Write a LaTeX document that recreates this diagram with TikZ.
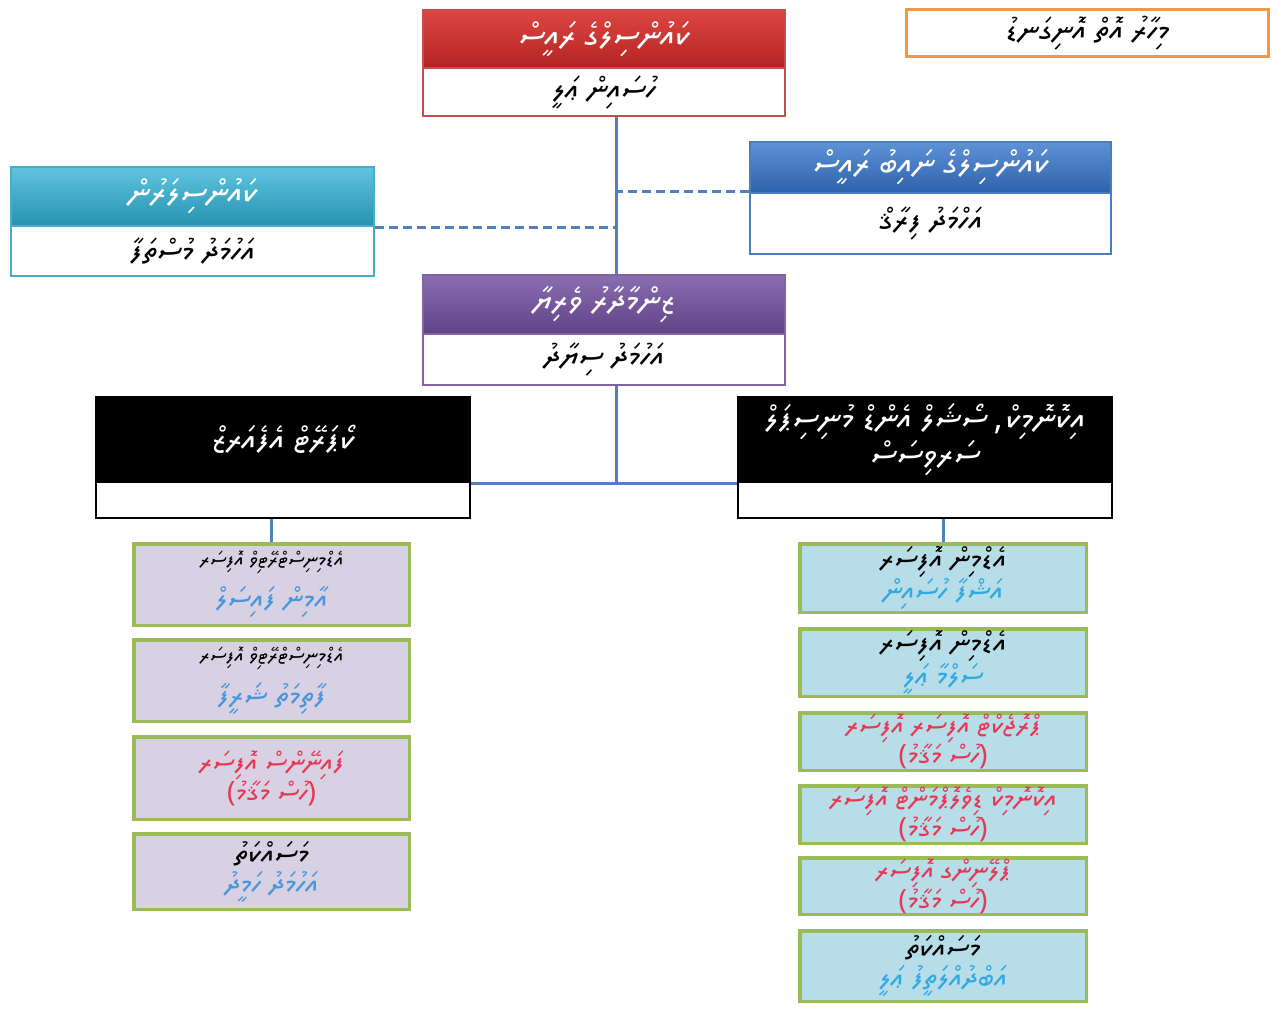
\documentclass[tikz,border=0pt]{standalone}
\usepackage{fontspec}
\usetikzlibrary{calc}
\setmainfont{Liberation Serif}
\IfFontExistsTF{Noto Sans Thaana}{\newfontfamily\dv[Script=Thaana]{Noto Sans Thaana}}{%
 \IfFontExistsTF{FreeSans}{\newfontfamily\dv[Script=Thaana]{FreeSans}}{%
  \IfFontExistsTF{MV Boli}{\newfontfamily\dv[Script=Thaana]{MV Boli}}{%
   \newfontfamily\dv{DejaVu Sans}}}}
\TeXXeTstate=1
\newcommand\dvt[1]{{\dv\beginR #1\endR}}
\newcommand\fH{\fontsize{34}{32}\selectfont}
\newcommand\fN{\fontsize{32}{30}\selectfont}
\newcommand\fB{\fontsize{30}{25}\selectfont}
\newcommand\fR{\fontsize{28}{25}\selectfont}
\newcommand\fS{\fontsize{21}{22}\selectfont}
\definecolor{cRedT}{RGB}{222,70,66}
\definecolor{cRedB}{RGB}{178,36,34}
\definecolor{cRedBd}{RGB}{192,80,77}
\definecolor{cBlueT}{RGB}{94,146,214}
\definecolor{cBlueB}{RGB}{44,98,170}
\definecolor{cBlueBd}{RGB}{74,126,187}
\definecolor{cTealT}{RGB}{96,196,222}
\definecolor{cTealB}{RGB}{38,146,178}
\definecolor{cTealBd}{RGB}{75,172,198}
\definecolor{cPurT}{RGB}{138,110,178}
\definecolor{cPurB}{RGB}{96,66,134}
\definecolor{cPurBd}{RGB}{128,100,162}
\definecolor{cOrange}{RGB}{247,150,70}
\definecolor{cLav}{RGB}{216,209,228}
\definecolor{cLB}{RGB}{183,221,232}
\definecolor{cGreen}{RGB}{155,187,89}
\definecolor{cLine}{RGB}{79,129,189}
\definecolor{cTxtBlue}{RGB}{74,150,220}
\definecolor{cTxtCyan}{RGB}{50,170,225}
\definecolor{cTxtRed}{RGB}{232,54,84}
\tikzset{
  hdbox/.style={inner sep=0pt, line width=2pt, align=center, text=white, font=\fH},
  bdbox/.style={inner sep=0pt, line width=2.5pt, fill=white, align=center, text=black, font=\fN},
  lavbox/.style={inner sep=0pt, line width=3.5pt, draw=cGreen, fill=cLav, align=center, minimum width=275.5, font=\fB},
  lbbox/.style={inner sep=0pt, line width=3.5pt, draw=cGreen, fill=cLB, align=center, minimum width=286.5, font=\fB},
  blkhd/.style={hdbox, fill=black, draw=black, minimum width=374, minimum height=85},
  link/.style={draw=cLine, line width=3pt},
  dlink/.style={draw=cLine, line width=3pt, dash pattern=on 9pt off 5pt},
}
\begin{document}
\begin{tikzpicture}[x=1pt,y=-1pt]
\useasboundingbox (0,0) rectangle (1279,1012);
\fill[white] (0,0) rectangle (1279,1012);
\coordinate (spine) at (616,0);

% president
\node[hdbox, top color=cRedT, bottom color=cRedB, draw=cRedBd, minimum width=362, minimum height=58] (presH) at (604,39) {\dvt{ކައުންސިލްގެ ރައީސް}};
\node[bdbox, draw=cRedBd, minimum width=362, minimum height=48] (presB) at (604,92) {\dvt{ހުސައިން ޢަލީ}};

% title
\node[draw=cOrange, line width=3pt, fill=white, minimum width=362, minimum height=47, inner sep=0pt, font=\fN] (title) at (1087.5,33) {\dvt{މިހާރު އޮތް އޮނިގަނޑު}};

% vice president
\node[hdbox, top color=cBlueT, bottom color=cBlueB, draw=cBlueBd, minimum width=361, minimum height=51] (vpH) at (930.5,167.5) {\dvt{ކައުންސިލްގެ ނައިބު ރައީސް}};
\node[bdbox, draw=cBlueBd, minimum width=361, minimum height=61] (vpB) at (930.5,223.5) {\dvt{އަހްމަދު ފިރާޤް}};

% councillors
\node[hdbox, top color=cTealT, bottom color=cTealB, draw=cTealBd, minimum width=363, minimum height=59] (coH) at (192.5,196.5) {\dvt{ކައުންސިލަރުން}};
\node[bdbox, draw=cTealBd, minimum width=363, minimum height=50] (coB) at (192.5,251) {\dvt{އަހުމަދު މުސްތަފާ}};

% responsible head
\node[hdbox, top color=cPurT, bottom color=cPurB, draw=cPurBd, minimum width=362, minimum height=59] (gmH) at (604,304.5) {\dvt{ޒިންމާދާރު ވެރިޔާ}};
\node[bdbox, draw=cPurBd, minimum width=362, minimum height=51] (gmB) at (604,359.5) {\dvt{އަހުމަދު ސިޔާދު}};

% sections
\node[blkhd] (caH) at (283,439.5) {\dvt{ކޯޕަރޭޓް އެފެއަރޒް}};
\node[bdbox, draw=black, minimum width=374, minimum height=36] (caB) at (283,500) {};
\node[blkhd] (esH) at (925,439.5) {\dvt{އިކޮނޮމިކް، ސޯޝަލް އެންޑް މުނިސިޕަލް}\\\dvt{ސަރވިސަސް}};
\node[bdbox, draw=black, minimum width=374, minimum height=36] (esB) at (925,500) {};

% left column
\node[lavbox, minimum height=81.5] (L1) at (271.5,584.5) {{\fS\dvt{އެޑްމިނިސްޓްރޭޓިވް އޮފިސަރ}}\\[12pt]\textcolor{cTxtBlue}{\dvt{އާމިން ފައިސަލް}}};
\node[lavbox, minimum height=81.5] (L2) at (271.5,680.5) {{\fS\dvt{އެޑްމިނިސްޓްރޭޓިވް އޮފިސަރ}}\\[12pt]\textcolor{cTxtBlue}{\dvt{ފާތިމަތު ޝަރީފާ}}};
\node[lavbox, minimum height=82.5] (L3) at (271.5,778) {\textcolor{cTxtRed}{\fR\dvt{ފައިނޭންސް އޮފިސަރ}}\\\textcolor{cTxtRed}{\fR\dvt{(ހުސް މަޤާމު)}}};
\node[lavbox, minimum height=75.5] (L4) at (271.5,871.5) {{\dvt{މަސައްކަތު}}\\[5pt]\textcolor{cTxtBlue}{\dvt{އަހުމަދު ހަމީދު}}};

% right column
\node[lbbox, minimum height=68.5] (R1) at (943,578) {{\dvt{އެޑްމިން އޮފިސަރ}}\\\textcolor{cTxtCyan}{\dvt{އަޝްފާ ހުސައިން}}};
\node[lbbox, minimum height=67.5] (R2) at (943,662.5) {{\dvt{އެޑްމިން އޮފިސަރ}}\\\textcolor{cTxtCyan}{\dvt{ސަލްމާ ޢަލީ}}};
\node[lbbox, minimum height=57.5] (R3) at (943,741.5) {\textcolor{cTxtRed}{\fR\dvt{ޕްރޮޖެކްޓް އޮފިސަރ އޮފިސަރ}}\\\textcolor{cTxtRed}{\fR\dvt{(ހުސް މަޤާމު)}}};
\node[lbbox, minimum height=57.5] (R4) at (943,814.5) {\textcolor{cTxtRed}{\fR\dvt{އިކޮނޮމިކް ޑިވެލޮޕްމަންޓް އޮފިސަރ}}\\\textcolor{cTxtRed}{\fR\dvt{(ހުސް މަޤާމު)}}};
\node[lbbox, minimum height=56.5] (R5) at (943,886) {\textcolor{cTxtRed}{\fR\dvt{ޕްލޭނިންގ އޮފިސަރ}}\\\textcolor{cTxtRed}{\fR\dvt{(ހުސް މަޤާމު)}}};
\node[lbbox, minimum height=70.5] (R6) at (943,966) {{\dvt{މަސައްކަތު}}\\[5pt]\textcolor{cTxtCyan}{\dvt{އަބްދުއްލަތީފު ޢަލީ}}};

% connectors
\draw[link] (presB.south -| spine) -- (gmH.north -| spine);
\draw[link] (gmB.south -| spine) -- (caH.south -| spine);
\draw[link] (caH.south east) -- (esH.south west);
\draw[dlink] ($(vpH.south west)+(0,-3)$) -- ($(vpH.south west -| spine)+(0,-3)$);
\draw[dlink] (coH.south east) -- (coH.south east -| spine);
\draw[link] (caB.south -| L1.north) -- (L1.north);
\draw[link] (esB.south -| R1.north) -- (R1.north);
\end{tikzpicture}
\end{document}
